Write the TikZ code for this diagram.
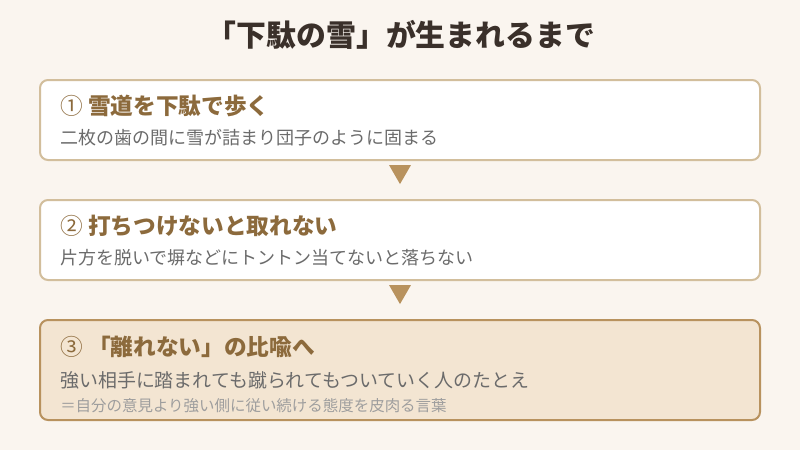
\documentclass[tikz,border=0pt]{standalone}
\usepackage{fontspec}
\setmainfont{Noto Sans CJK JP}
\usetikzlibrary{shapes}
\definecolor{bg}{HTML}{FAF5EF}
\definecolor{boxline}{HTML}{D2BE9C}
\definecolor{hiline}{HTML}{B8925E}
\definecolor{hifill}{HTML}{F3E5D2}
\definecolor{headcol}{HTML}{8C6A3C}
\definecolor{titlecol}{HTML}{3A302A}
\definecolor{bodycol}{HTML}{6B6B6B}
\definecolor{notecol}{HTML}{9E9E9E}
\tikzset{
	txt/.style = {inner sep=0pt, anchor=west},
	step_box/.style = {draw=boxline, fill=white, line width=1.5pt,
		rounded corners=6pt, minimum width=540pt, minimum height=60pt},% normal step
	step_hi/.style = {step_box, draw=hiline, fill=hifill, minimum height=75pt},% last step
	step_hd/.style = {txt, headcol, font=\fontsize{17pt}{20pt}\selectfont\bfseries},% step heading
	step_tx/.style = {txt, bodycol, font=\fontsize{13.5pt}{16pt}\selectfont},% step text
	step_nt/.style = {txt, notecol, font=\fontsize{11.6pt}{14pt}\selectfont},% side note
	down_tri/.style = {regular polygon, regular polygon sides=3, shape border rotate=180,
		fill=hiline, inner sep=0pt, minimum size=19pt}% arrow
}
\newcommand{\numc}[1]{{\mdseries #1}}
\begin{document}
\begin{tikzpicture}[x=0.75pt,y=-0.75pt]
	\useasboundingbox[fill=bg] (0,0) rectangle (800,450);
	\node (title) [inner sep=0pt, titlecol, font=\fontsize{22.4pt}{26pt}\selectfont\bfseries]
		at (401,35) {「下駄の雪」が生まれるまで};
	% steps
	\node (box1) [step_box] at (400,120) {};
	\node (hd1) [step_hd] at (60,106) {\numc{①} 雪道を下駄で歩く};
	\node (tx1) [step_tx] at (60,138) {二枚の歯の間に雪が詰まり団子のように固まる};
	\node (arr1) [down_tri] at (400,171.4) {};
	\node (box2) [step_box] at (400,240) {};
	\node (hd2) [step_hd] at (60,226) {\numc{②} 打ちつけないと取れない};
	\node (tx2) [step_tx] at (60,258) {片方を脱いで塀などにトントン当てないと落ちない};
	\node (arr2) [down_tri] at (400,291.4) {};
	\node (box3) [step_hi] at (400,370) {};
	\node (hd3) [step_hd] at (60,347) {\numc{③} 「離れない」の比喩へ};
	\node (tx3) [step_tx, font=\fontsize{14.2pt}{16pt}\selectfont] at (60,380) {強い相手に踏まれても蹴られてもついていく人のたとえ};
	\node (nt3) [step_nt] at (60,406) {＝自分の意見より強い側に従い続ける態度を皮肉る言葉};
\end{tikzpicture}
\end{document}
